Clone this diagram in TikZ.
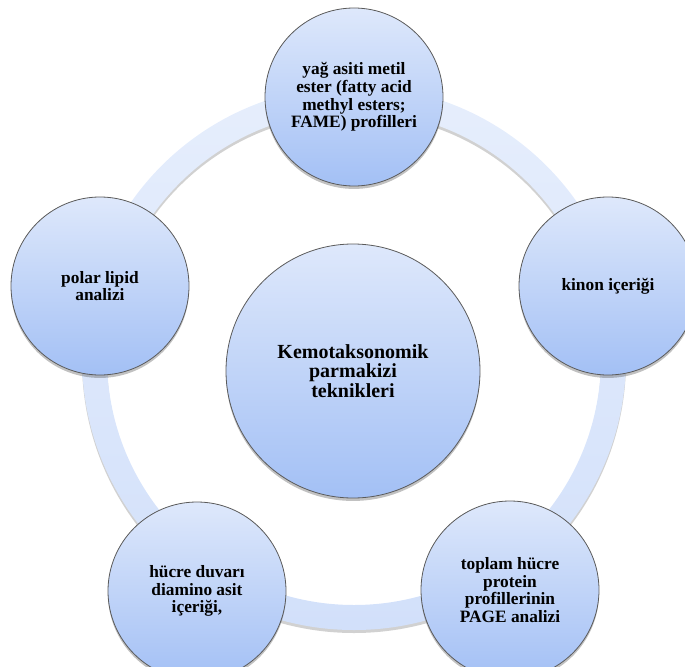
\documentclass[tikz,border=0pt]{standalone}
\usepackage{fontspec}
\setmainfont{Liberation Serif}
\usetikzlibrary{shadows}
\definecolor{bubtop}{HTML}{DEE8FB}
\definecolor{bubbot}{HTML}{A3C0F5}
\definecolor{ringtop}{HTML}{E6EEFC}
\definecolor{ringbot}{HTML}{D2E0FA}
\definecolor{edgegray}{HTML}{5A5A5A}
\tikzset{
  bub/.style={circle, draw=edgegray, line width=0.6pt, top color=bubtop, bottom color=bubbot,
    minimum size=133.5pt, inner sep=0pt, align=center,
    font=\fontsize{13}{13.2}\selectfont\bfseries,
    drop shadow={shadow xshift=0pt, shadow yshift=-2.2pt, opacity=0.35, fill=black!70}},
  hub/.style={bub, minimum size=190.5pt, font=\fontsize{15}{14.8}\selectfont\bfseries},
}
\begin{document}
\begin{tikzpicture}[x=0.75pt, y=-0.75pt]
\useasboundingbox (0,0) rectangle (685,667);
% ring shadow
\fill[black, opacity=0.18, even odd rule] (354,361) circle [radius=272] (354,361) circle [radius=247];
% ring
\shade[top color=ringtop, bottom color=ringbot, even odd rule] (354,358) circle [radius=272] (354,358) circle [radius=247];
% nodes
\node[hub] (c) at (353,371) {Kemotaksonomik\\parmakizi\\teknikleri};
\node[bub] (t) at (354,97) {yağ asiti metil\\ester (fatty acid\\methyl esters;\\FAME) profilleri};
\node[bub] (r) at (608,286) {kinon içeriği};
\node[bub] (br) at (510,590) {toplam hücre\\protein\\profillerinin\\PAGE analizi};
\node[bub] (bl) at (197,591) {hücre duvarı\\diamino asit\\içeriği,};
\node[bub] (l) at (100,286) {polar lipid\\analizi};
\end{tikzpicture}
\end{document}
